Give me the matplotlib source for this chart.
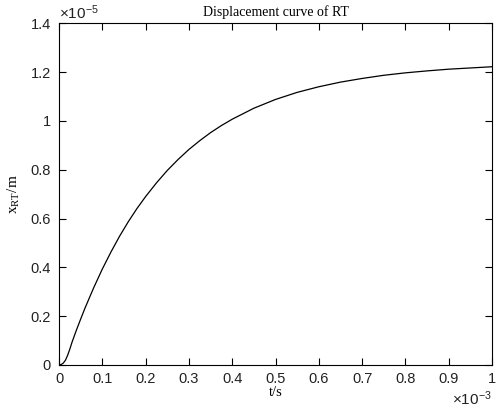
import matplotlib
matplotlib.use("Agg")
import matplotlib.pyplot as plt
from matplotlib.ticker import FuncFormatter, MultipleLocator

plt.rcParams["mathtext.fontset"] = "custom"
plt.rcParams["mathtext.rm"] = "Liberation Serif"
plt.rcParams["mathtext.sf"] = "Liberation Sans"

# data (t in 1e-3 s, x_RT in 1e-5 m)
t_ms = [0.000, 0.005, 0.010, 0.015, 0.020, 0.025, 0.030, 0.040, 0.050, 0.060,
        0.080, 0.100, 0.120, 0.140, 0.160, 0.180, 0.200, 0.225, 0.250, 0.275,
        0.300, 0.325, 0.350, 0.375, 0.400, 0.450, 0.500, 0.550, 0.600, 0.650,
        0.700, 0.750, 0.800, 0.850, 0.900, 0.950, 1.000]
x_rt = [0.000, 0.002, 0.008, 0.020, 0.040, 0.065, 0.093, 0.142, 0.188, 0.233,
        0.316, 0.393, 0.463, 0.528, 0.587, 0.641, 0.690, 0.746, 0.797, 0.842,
        0.883, 0.919, 0.952, 0.981, 1.007, 1.052, 1.088, 1.117, 1.140, 1.159,
        1.174, 1.187, 1.197, 1.205, 1.212, 1.217, 1.222]

title = "Displacement curve of RT"
xlabel = "t/s"
ylabel = r"x$_{\mathrm{RT}}$/m"

fig = plt.figure(figsize=(4.97, 4.09), dpi=100)
ax = fig.add_axes([59/497, 44/409, 433/497, 341.7/409])
ax.plot(t_ms, x_rt, color="black", lw=0.9)
ax.set_xlim(0, 1)
ax.set_ylim(0, 1.4)
ax.xaxis.set_major_locator(MultipleLocator(0.1))
ax.yaxis.set_major_locator(MultipleLocator(0.2))
fmt = FuncFormatter(lambda v, p: "%g" % round(v, 3))
ax.xaxis.set_major_formatter(fmt)
ax.yaxis.set_major_formatter(fmt)
ax.tick_params(direction="in", length=5, width=0.8, top=True, right=True,
               labelsize=10.5, colors="black", pad=5)
ax.tick_params(axis="y", pad=6)
for lbl in ax.get_xticklabels() + ax.get_yticklabels():
    lbl.set_fontfamily("Liberation Sans")
    lbl.set_color("#222222")
for s in ax.spines.values():
    s.set_linewidth(0.8)

ax.set_title(title, fontfamily="Liberation Serif", fontsize=10, pad=5)
ax.set_xlabel(xlabel, fontfamily="Liberation Serif", fontsize=10.5, labelpad=0)
ax.set_ylabel(ylabel, fontfamily="Liberation Serif", fontsize=11, labelpad=6)

ax.text(0.0, 1.005, r"$\mathsf{\times 10^{-5}}$", transform=ax.transAxes, ha="left",
        va="bottom", fontsize=11, color="#222222")
ax.text(1.0, -0.07, r"$\mathsf{\times 10^{-3}}$", transform=ax.transAxes, ha="right",
        va="top", fontsize=11, color="#222222")

fig.savefig("out.png", dpi=100)
